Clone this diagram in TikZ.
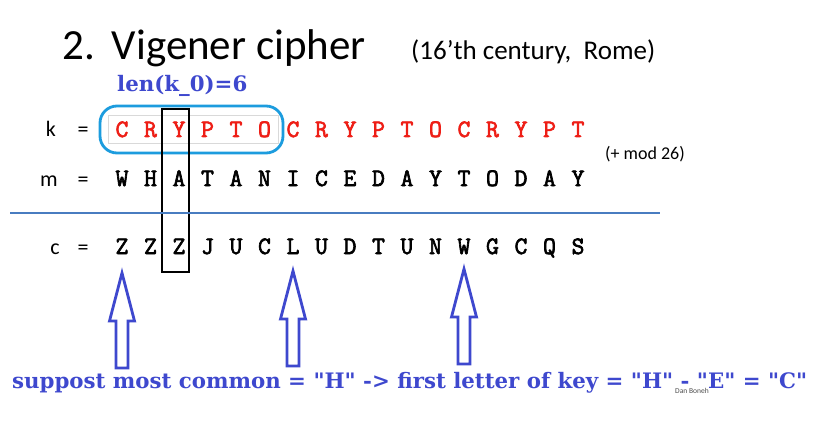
\documentclass[tikz,border=0pt]{standalone}
\usepackage{fontspec}
\setmainfont{Carlito}
\newfontfamily\typefont{Latin Modern Mono}[FakeBold=2.6]
\newfontfamily\slabfont{DejaVu Serif}
\usetikzlibrary{positioning}

\definecolor{keyred}{RGB}{238,30,22}
\definecolor{noteblue}{RGB}{62,72,206}
\definecolor{ringblue}{RGB}{28,156,222}
\definecolor{ruleblue}{RGB}{72,124,192}

\tikzset{
  rowlabel/.style={anchor=base, font=\fontsize{22}{26}\selectfont},
  keyletter/.style={anchor=base, text=keyred, font=\typefont\fontsize{25}{29}\selectfont},
  plainletter/.style={anchor=base, font=\typefont\fontsize{25}{29}\selectfont},
  bluenote/.style={anchor=base west, text=noteblue, font=\slabfont\bfseries\fontsize{21.3}{25}\selectfont},
  hollowarrow/.style={draw=noteblue, line width=2.8pt, line join=miter},
  pics/uparrow/.style={code={
    \draw[hollowarrow] (-6,0) -- (-6,-47) -- (-12.5,-47) -- (0,-95) -- (12.5,-47) -- (6,-47) -- (6,0) -- cycle;
  }}
}

\begin{document}
\begin{tikzpicture}[x=1pt, y=-1pt, every node/.style={inner sep=0pt}]
\useasboundingbox[fill=white] (0,0) rectangle (819,425);

% heading
\node[anchor=base west, font=\fontsize{43}{50}\selectfont] (title) at (62,60) {2.\hspace{17pt}Vigener cipher};
\node[anchor=base west, font=\fontsize{27}{32}\selectfont] (era) at (411,60) {(16’th century,\ \ Rome)};
\node[bluenote] (keylen) at (117,92) {len(k\_0)=6};

% the three rows
\node[rowlabel] (klab) at (51,137) {k}; \node[rowlabel] (keq) at (83,137) {=};
\node[rowlabel] (mlab) at (49,186) {m}; \node[rowlabel] (meq) at (83,186) {=};
\node[rowlabel] (clab) at (55,254) {c}; \node[rowlabel] (ceq) at (83,254) {=};

\foreach \ch [count=\i from 0] in {C,R,Y,P,T,O,C,R,Y,P,T,O,C,R,Y,P,T}
  \node[keyletter] (k\i) at (122+28.5*\i,137) {\ch};
\foreach \ch [count=\i from 0] in {W,H,A,T,A,N,I,C,E,D,A,Y,T,O,D,A,Y}
  \node[plainletter] (m\i) at (122+28.5*\i,186) {\ch};
\foreach \ch [count=\i from 0] in {Z,Z,Z,J,U,C,L,U,D,T,U,N,W,G,C,Q,S}
  \node[plainletter] (c\i) at (122+28.5*\i,254) {\ch};

\node[anchor=base west, font=\fontsize{18}{22}\selectfont] (modnote) at (605,160) {(+ mod 26)};

% key period, column box, rule
\draw[black!15, line width=0.6pt] (108,115) rectangle (278,143);
\draw[ringblue, line width=2.8pt, rounded corners=17pt] (100,106) rectangle (283,153);
\draw[black, line width=2.8pt] (162,109) rectangle (189,272);
\draw[ruleblue, line width=2.4pt] (10,213) -- (660,213);

% frequency arrows
\pic at (c0 |- 0,368) {uparrow};
\pic at (c6 |- 0,366) {uparrow};
\pic at (c12 |- 0,364) {uparrow};

\node[bluenote] (guess) at (12,388) {suppost most common = "H" -> first letter of key = "H" - "E" = "C"};
\node[anchor=base west, text=black!70, font=\fontsize{7.5}{9}\selectfont] (credit) at (675,393) {Dan Boneh};
\end{tikzpicture}
\end{document}
